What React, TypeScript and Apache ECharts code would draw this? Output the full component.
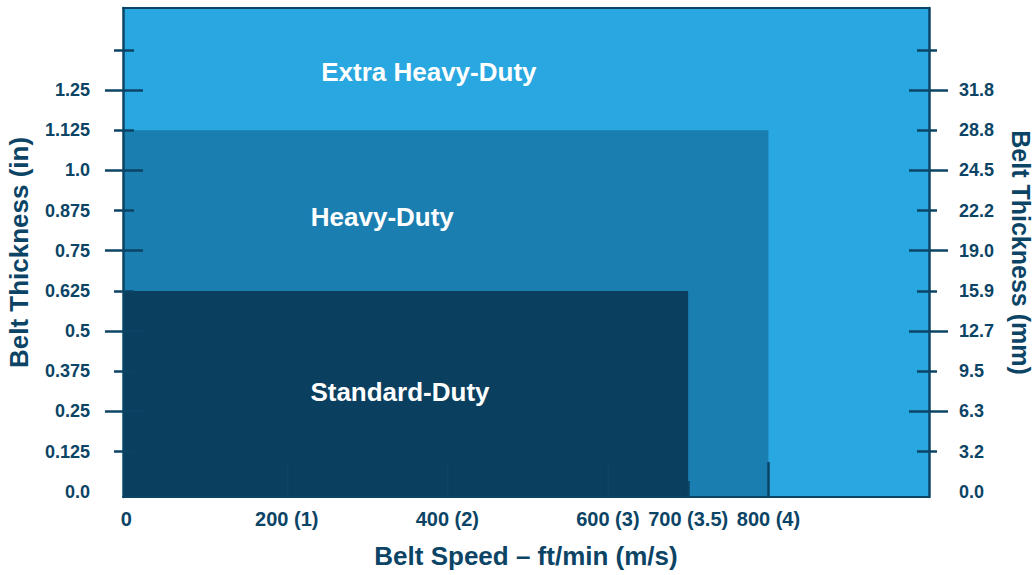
import React, { useEffect, useRef } from "react";
import * as echarts from "echarts";

// ---- data ----
const xTickValues = [0, 200, 400, 600, 700, 800];
const xTickLabels = ["0", "200 (1)", "400 (2)", "600 (3)", "700 (3.5)", "800 (4)"];
const xLongTicks = [200, 400, 600, 800];
const xShortTicks = [700];

const yTickValues = [0, 0.125, 0.25, 0.375, 0.5, 0.625, 0.75, 0.875, 1.0, 1.125, 1.25];
const yLabelsIn = ["0.0", "0.125", "0.25", "0.375", "0.5", "0.625", "0.75", "0.875", "1.0", "1.125", "1.25"];
const yLabelsMm = ["0.0", "3.2", "6.3", "9.5", "12.7", "15.9", "19.0", "22.2", "24.5", "28.8", "31.8"];
const yMinorTicks = [0.125, 0.375, 0.625, 0.875, 1.125, 1.375];
const yMajorTicks = [0.25, 0.5, 0.75, 1.0, 1.25];

const zoneNames = ["Extra Heavy-Duty", "Heavy-Duty", "Standard-Duty"];
const zoneMaxSpeed = [1000, 800, 700];
const zoneMaxThickness = [1.505, 1.125, 0.625];

// label anchor points (data units) and styles kept apart from data
const zoneLabelSpeed = [377, 319, 341];
const zoneLabelThickness = [1.305, 0.855, 0.31];
const zoneColors = ["#29a7e0", "#1a7eb0", "#0a3f5f"];

const NAVY = "#0c4466";
const FONT = "'Liberation Sans', Arial, Helvetica, sans-serif";

function lookup(values: number[], labels: string[], v: number) {
  const i = values.findIndex((t) => Math.abs(t - v) < 1e-9);
  return i >= 0 ? labels[i] : "";
}

export default function App() {
  const ref = useRef<HTMLDivElement>(null);
  useEffect(() => {
    document.body.style.margin = "0";
    const chart = echarts.init(ref.current!, null, { renderer: "svg" });

    const labelStyle = (size: number) => ({ color: NAVY, fontSize: size, fontWeight: "bold", fontFamily: FONT });
    const nameStyle = (size: number) => ({ color: NAVY, fontSize: size, fontWeight: "bold", fontFamily: FONT });
    const axisLine = () => ({ show: true, onZero: false, lineStyle: { color: NAVY, width: 2.5 } });

    const tickAxis = (position: "left" | "right", values: number[], inside: boolean, length: number) => ({
      type: "value",
      position,
      min: -0.016,
      max: 1.505,
      z: 5,
      axisLine: { show: false, onZero: false },
      axisLabel: { show: false },
      splitLine: { show: false },
      axisTick: { show: true, inside, length, customValues: values, lineStyle: { color: NAVY, width: 2.5 } },
    });

    const data = zoneNames.map((n, i) => [zoneMaxSpeed[i], zoneMaxThickness[i], zoneLabelSpeed[i], zoneLabelThickness[i]]);

    chart.setOption({
      animation: false,
      grid: { left: 123, right: 107, top: 8, bottom: 78, outerBoundsMode: "none", containLabel: false },
      xAxis: [
        {
          type: "value",
          position: "bottom",
          min: -4,
          max: 1000,
          z: 5,
          axisLine: { show: true, onZero: false, lineStyle: { color: NAVY, width: 2 } },
          splitLine: { show: false },
          axisTick: { show: true, inside: true, length: 35, customValues: xLongTicks, lineStyle: { color: NAVY, width: 2.5 } },
          axisLabel: {
            ...labelStyle(20),
            margin: 12,
            customValues: xTickValues,
            formatter: (v: number) => lookup(xTickValues, xTickLabels, v),
          },
          name: "Belt Speed – ft/min (m/s)",
          nameLocation: "middle",
          nameGap: 46,
          nameTextStyle: nameStyle(26),
        },
        {
          type: "value",
          position: "bottom",
          min: -4,
          max: 1000,
          z: 5,
          axisLine: { show: false, onZero: false },
          axisLabel: { show: false },
          splitLine: { show: false },
          axisTick: { show: true, inside: true, length: 16, customValues: xShortTicks, lineStyle: { color: NAVY, width: 2.5 } },
        },
        {
          type: "value",
          position: "top",
          min: -4,
          max: 1000,
          z: 5,
          axisLine: { show: true, onZero: false, lineStyle: { color: NAVY, width: 2 } },
          axisLabel: { show: false },
          axisTick: { show: false },
          splitLine: { show: false },
        },
      ],
      yAxis: [
        {
          type: "value",
          position: "left",
          min: -0.016,
          max: 1.505,
          z: 5,
          axisLine: axisLine(),
          splitLine: { show: false },
          axisTick: { show: true, inside: false, length: 9, customValues: yMinorTicks, lineStyle: { color: NAVY, width: 2.5 } },
          axisLabel: {
            ...labelStyle(18),
            margin: 33,
            customValues: yTickValues,
            formatter: (v: number) => lookup(yTickValues, yLabelsIn, v),
          },
          name: "Belt Thickness (in)",
          nameLocation: "middle",
          nameGap: 91,
          nameTextStyle: nameStyle(26),
        },
        tickAxis("left", yMinorTicks, true, 11),
        tickAxis("left", yMajorTicks, false, 18),
        tickAxis("left", yMajorTicks, true, 20),
        {
          type: "value",
          position: "right",
          min: -0.016,
          max: 1.505,
          z: 5,
          axisLine: axisLine(),
          splitLine: { show: false },
          axisTick: { show: true, inside: false, length: 8, customValues: yMinorTicks, lineStyle: { color: NAVY, width: 2.5 } },
          axisLabel: {
            ...labelStyle(18),
            margin: 30,
            customValues: yTickValues,
            formatter: (v: number) => lookup(yTickValues, yLabelsMm, v),
          },
          name: "Belt Thickness (mm)",
          nameLocation: "middle",
          nameGap: 79,
          nameRotate: -90,
          nameTextStyle: nameStyle(25),
        },
        tickAxis("right", yMinorTicks, true, 12),
        tickAxis("right", yMajorTicks, false, 19),
        tickAxis("right", yMajorTicks, true, 20),
      ],
      series: [
        {
          type: "custom",
          xAxisIndex: 0,
          yAxisIndex: 0,
          z: 1,
          clip: true,
          data,
          renderItem: (params: any, api: any) => {
            const i = params.dataIndex;
            const cs = params.coordSys;
            const left = cs.x;
            const bottom = cs.y + cs.height;
            const p1 = api.coord([api.value(0), api.value(1)]);
            const lp = api.coord([api.value(2), api.value(3)]);
            return {
              type: "group",
              children: [
                {
                  type: "rect",
                  shape: { x: left, y: p1[1], width: p1[0] - left, height: bottom - p1[1] },
                  style: { fill: zoneColors[i] },
                },
                {
                  type: "text",
                  x: lp[0],
                  y: lp[1],
                  style: {
                    text: zoneNames[i],
                    fill: "#ffffff",
                    fontSize: 26,
                    fontWeight: "bold",
                    fontFamily: FONT,
                    align: "center",
                    verticalAlign: "middle",
                  },
                },
              ],
            };
          },
        },
      ],
    });
    return () => chart.dispose();
  }, []);
  return <div ref={ref} style={{ width: 1036, height: 575 }} />;
}
